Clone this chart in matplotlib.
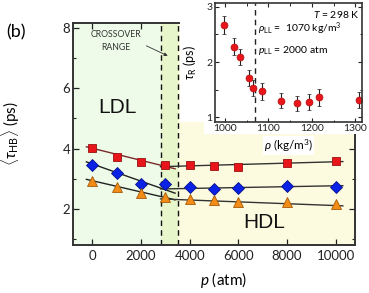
import numpy as np
import matplotlib
matplotlib.use('Agg')
import matplotlib.pyplot as plt
from matplotlib.patches import Rectangle

plt.rcParams['font.family'] = ['Lato', 'DejaVu Sans']
plt.rcParams['mathtext.fontset'] = 'custom'
plt.rcParams['mathtext.rm'] = 'Lato'
plt.rcParams['mathtext.it'] = 'Lato:italic'

# main panel: mean H-bond lifetime vs pressure
pressure = [0, 1000, 2000, 3000, 4000, 5000, 6000, 8000, 10000]
tau_red = [4.02, 3.72, 3.56, 3.44, 3.47, 3.41, 3.40, 3.52, 3.59]
tau_blue = [3.47, 3.19, 2.83, 2.84, 2.73, 2.67, 2.68, 2.76, 2.72]
tau_orange = [2.94, 2.71, 2.54, 2.41, 2.34, 2.30, 2.23, 2.22, 2.17]

# linear fits (end points)
ldl_p = [-250, 3400]
hdl_p = [2800, 10300]
red_ldl = [4.06, 3.33]
red_hdl = [3.40, 3.57]
blue_ldl = [3.56, 2.52]
blue_hdl = [2.66, 2.77]
orange_ldl = [2.98, 2.30]
orange_hdl = [2.33, 2.10]

crossover = [2800, 3500]

# inset: rotational time vs density
rho = [998, 1021, 1034, 1056, 1065, 1085, 1128, 1166, 1193, 1217, 1309]
tau_r = [2.67, 2.28, 2.09, 1.71, 1.53, 1.47, 1.30, 1.25, 1.28, 1.36, 1.31]
tau_r_err = [0.16, 0.15, 0.14, 0.14, 0.14, 0.15, 0.14, 0.14, 0.15, 0.15, 0.15]
rho_ll = 1070

W, H = 369, 293
fig = plt.figure(figsize=(W / 100, H / 100), dpi=100)

def fx(px):
    return px / W

def fy(py):
    return 1 - py / H

ax = fig.add_axes([fx(73), fy(245), fx(355) - fx(73), fy(22.7) - fy(245)])
ax.set_xlim(-800, 10800)
ax.set_ylim(0.8, 8.18)

ax.axvspan(-800, crossover[0], color='#edfbe8', zorder=0, lw=0)
ax.axvspan(crossover[0], crossover[1], color='#e8f6cc', zorder=0, lw=0)
ax.axvspan(crossover[1], 10800, color='#fcfbdf', zorder=0, lw=0)
for xc in crossover:
    ax.axvline(xc, color='#111111', ls=(0, (4, 3)), lw=1.0, zorder=1)

ax.plot(ldl_p, red_ldl, color='#7a2a2a', lw=1.0, zorder=2)
ax.plot(hdl_p, red_hdl, color='#333333', lw=1.0, zorder=2)
ax.plot(ldl_p, blue_ldl, color='#222222', lw=1.0, zorder=2)
ax.plot(hdl_p, blue_hdl, color='#333333', lw=1.0, zorder=2)
ax.plot(ldl_p, orange_ldl, color='#222222', lw=1.0, zorder=2)
ax.plot(hdl_p, orange_hdl, color='#333333', lw=1.0, zorder=2)

ax.plot(pressure, tau_red, 's', ms=6, mfc='#e8161a', mec='#9a1010', mew=0.6, zorder=3)
ax.plot(pressure, tau_blue, 'D', ms=6, mfc='#0a22e6', mec='#06108a', mew=0.6, zorder=3)
ax.plot(pressure, tau_orange, '^', ms=7, mfc='#f28c16', mec='#a55a08', mew=0.6, zorder=3)

ax.set_xticks([0, 2000, 4000, 6000, 8000, 10000])
ax.set_yticks([2, 4, 6, 8])
ax.set_yticks([1, 3, 5, 7], minor=True)
ax.tick_params(which='both', direction='in', top=True, right=True,
               colors='#222222', labelsize=9.5)
ax.tick_params(which='major', length=4, width=0.9)
ax.tick_params(which='minor', length=2.5, width=0.8)
ax.tick_params(axis='y', pad=2)
for s in ax.spines.values():
    s.set_color('#333333')
    s.set_linewidth(1.4)

ax.set_xlabel(r'$p$ (atm)', fontsize=11)
ax.xaxis.set_label_coords(0.535, -0.112)
ax.set_ylabel(r'$\langle\tau_{\rm HB}\rangle$ (ps)', fontsize=11)
ax.yaxis.set_label_coords(-0.18, 0.5)

ax.text(1040, 5.37, 'LDL', fontsize=15, family='Liberation Sans',
        ha='center', va='center', color='#111111')
ax.text(7080, 1.54, 'HDL', fontsize=15, family='Liberation Sans',
        ha='center', va='center', color='#111111')
ax.annotate('CROSSOVER\nRANGE', xy=(3200, 7.04), xytext=(960, 7.57),
            fontsize=6.3, ha='center', va='center', color='#333333',
            linespacing=1.5,
            arrowprops=dict(arrowstyle='-|>', color='#333333', lw=0.6,
                            mutation_scale=5, relpos=(0.95, 0.45)))

fig.text(fx(16), fy(32), '(b)', fontsize=13, ha='center', va='center')

# white backing behind the inset
fig.patches.append(Rectangle((fx(180), fy(122)), fx(362) - fx(180), fy(0) - fy(122),
                             transform=fig.transFigure, fc='white', ec='none', zorder=1))
fig.patches.append(Rectangle((fx(204), fy(134)), fx(366) - fx(204), fy(122) - fy(134),
                             transform=fig.transFigure, fc='white', ec='none', zorder=1))

ins = fig.add_axes([fx(215), fy(121.7), fx(362) - fx(215), fy(3) - fy(121.7)])
ins.set_zorder(2)
ins.set_xlim(977, 1315)
ins.set_ylim(0.92, 3.07)
ins.axvline(rho_ll, color='#222222', ls=(0, (4, 3)), lw=1.0)
ins.errorbar(rho, tau_r, yerr=tau_r_err, fmt='o', ms=5, mfc='#e8161a', mec='#b01010',
             mew=0.5, ecolor='#222222', elinewidth=0.8, capsize=1.5, capthick=0.8)
ins.set_xticks([1000, 1100, 1200, 1300])
ins.set_xticks(np.arange(1000, 1301, 50), minor=True)
ins.set_yticks([1, 2, 3])
ins.set_yticks([1.5, 2.5], minor=True)
ins.tick_params(which='both', direction='in', top=True, right=True,
                colors='#222222', labelsize=7.5, pad=2)
ins.tick_params(which='major', length=3, width=0.8)
ins.tick_params(which='minor', length=1.8, width=0.7)
for s in ins.spines.values():
    s.set_color('#333333')
    s.set_linewidth(1.2)
ins.set_xlabel(r'$\rho$ (kg/m$^3$)', fontsize=8.5, labelpad=3,
               bbox=dict(fc='white', ec='none', pad=1))
ins.set_ylabel(r'$\tau_{\rm R}$ (ps)', fontsize=9, labelpad=5)
ins.text(0.985, 0.9, r'$T$ = 298 K', transform=ins.transAxes, fontsize=7.5,
         ha='right', va='center')
ins.text(0.29, 0.78, r'$\rho_{\rm LL}$ =  1070 kg/m$^3$', transform=ins.transAxes,
         fontsize=7.5, ha='left', va='center')
ins.text(0.29, 0.6, r'$p_{\rm LL}$ = 2000 atm', transform=ins.transAxes,
         fontsize=7.5, ha='left', va='center')

fig.savefig('out.png', dpi=100)
